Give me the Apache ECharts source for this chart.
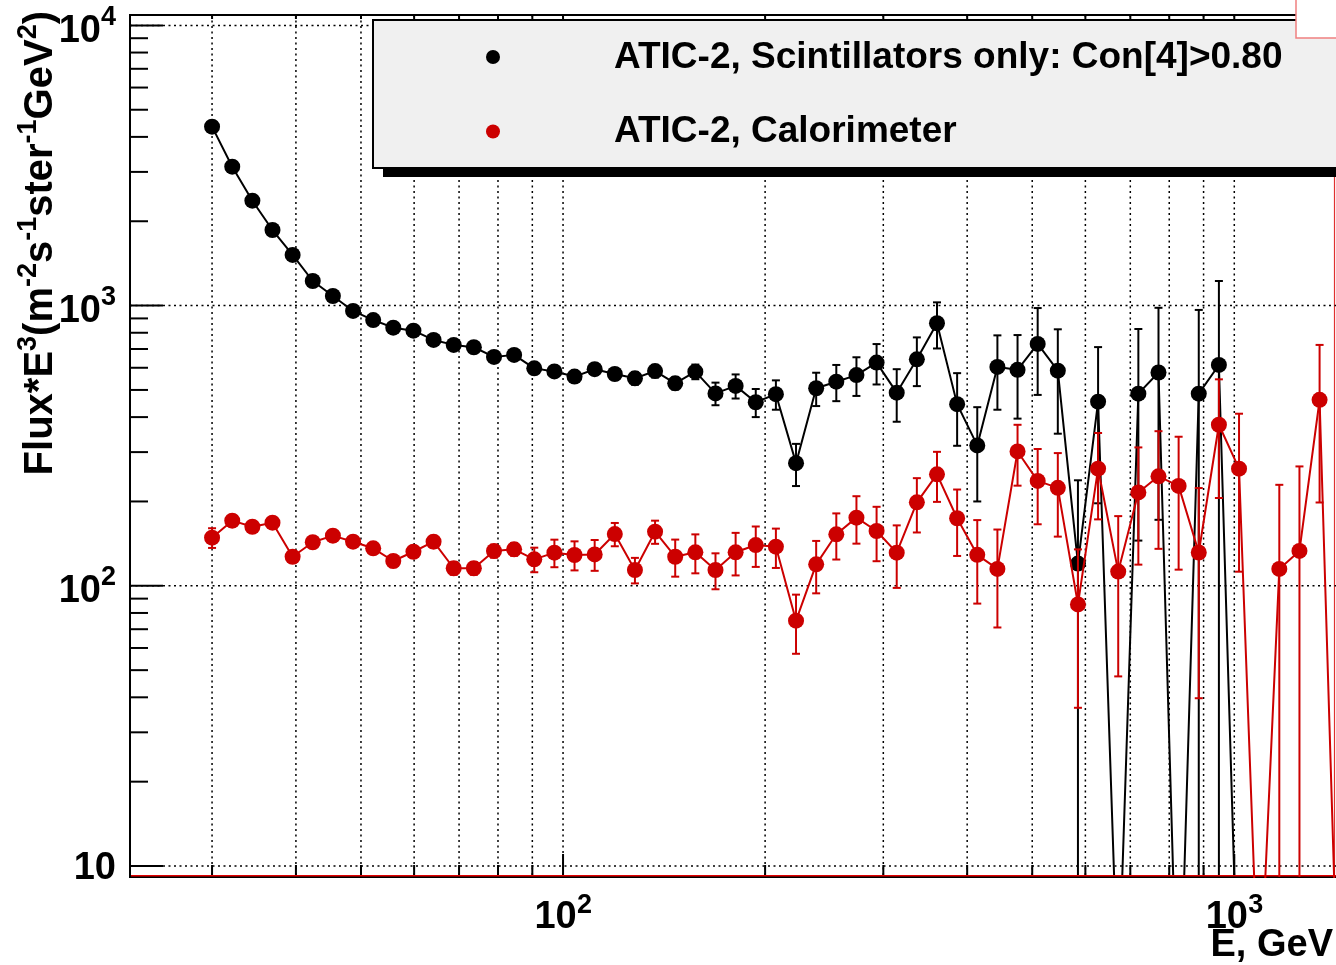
<!DOCTYPE html>
<html><head><meta charset="utf-8">
<script src="https://cdn.jsdelivr.net/npm/echarts@6/dist/echarts.min.js"></script>
<style>html,body{margin:0;padding:0;background:#fff;overflow:hidden}#c{width:1336px;height:965px}</style>
</head><body><div id="c"></div>
<script>
// Energy bin centres (GeV)
const energies = [30.00, 32.15, 34.45, 36.91, 39.55, 42.38, 45.41, 48.66, 52.14, 55.86,
  59.86, 64.14, 68.73, 73.64, 78.91, 84.55, 90.60, 97.08, 104.02, 111.46,
  119.43, 127.97, 137.12, 146.93, 157.44, 168.70, 180.76, 193.69, 207.54, 222.38,
  238.29, 255.33, 273.59, 293.16, 314.12, 336.59, 360.66, 386.45, 414.09, 443.71,
  475.44, 509.44, 545.87, 584.91, 626.74, 671.56, 719.59, 771.05, 826.19, 885.28,
  948.59, 1016.4, 1089.1, 1167.0, 1250.5, 1339.9, 1435.7];
// ATIC-2, Scintillators only: Con[4]>0.80
const scintFlux = [4351, 3131, 2368, 1861, 1516, 1224, 1082, 957, 888, 834,
  814, 754, 724, 710, 656, 667, 597, 582, 558, 593,
  570, 550, 584, 528, 581, 486, 517, 452, 483, 274,
  507, 535, 565, 626, 489, 643, 865, 445, 317, 604,
  590, 730, 586, 120, 454, 3.4, 485, 577, 2.0, 485,
  614, 2.5];
const scintErr = [45, 38, 33, 29, 26, 24, 23, 22, 22, 22,
  22, 22, 22, 23, 23, 24, 24, 25, 25, 27,
  27, 28, 30, 26, 35, 45, 51, 52, 58, 47,
  69, 79, 89, 103, 104, 127, 162, 129, 117, 179,
  195, 250, 237, 118, 257, 0, 340, 405, 0, 480,
  610, 0];
// ATIC-2, Calorimeter
const caloFlux = [148.5, 170.8, 162.5, 168.0, 127.0, 143.0, 151.0, 143.7, 136.1, 122.6,
  132.3, 143.7, 115.5, 115.5, 133.1, 135.0, 124.3, 131.3, 128.8, 129.4,
  153.0, 113.9, 156.0, 127.0, 131.7, 113.9, 131.7, 139.8, 137.9, 75.1,
  119.3, 152.7, 175.1, 156.9, 131.3, 198.6, 250.0, 174.2, 129.0, 114.9,
  301.6, 236.8, 223.7, 85.8, 261.8, 112.4, 215.4, 245.9, 227.3, 131.5,
  375.7, 261.8, 3.0, 114.9, 133.2, 461.1, 2.0];
const caloErr = [12, 8, 7, 7, 6, 6, 7, 6, 6, 6,
  6, 7, 6, 6, 7, 7, 12.5, 14.8, 15.3, 16.3,
  14.6, 11.9, 14.8, 19.2, 20.9, 16.7, 22.8, 23.0, 22.1, 17.9,
  25.3, 28.6, 33.7, 34.5, 33.0, 43.6, 50.7, 46.4, 42.6, 43.9,
  73.9, 71.0, 73.9, 49.1, 89.2, 64.9, 96.4, 110.4, 113.1, 91.8,
  169.9, 149.5, 0, 114.4, 133.5, 262.8, 0];

// axis decoration values
const xGridTicks = [30, 40, 50, 60, 70, 80, 90, 100, 200, 300, 400, 500, 600, 700, 800, 900, 1000];
const xMajorTicks = [100, 1000];
const yMajorTicks = [10, 100, 1000, 10000];
const yMinorTicks = [20, 30, 40, 50, 60, 70, 80, 90, 200, 300, 400, 500, 600, 700, 800, 900, 2000, 3000, 4000, 5000, 6000, 7000, 8000, 9000];
const xLabelVals = [100, 1000];
const xLabelSups = ['2', '3'];
const yLabelVals = [10, 100, 1000, 10000];
const yLabelSups = ['', '2', '3', '4'];

const FONT = '"Liberation Sans", Arial, Helvetica, sans-serif';
const RED = '#cc0000';

const chart = echarts.init(document.getElementById('c'), null, {renderer: 'canvas'});

function errRender(color) {
  return function (params, api) {
    const x = api.value(0), y = api.value(1), e = api.value(2);
    if (!(e > 0)) return null;
    const cs = params.coordSys;
    const top = cs.y, bot = cs.y + cs.height;
    const pHi = api.coord([x, y + e]);
    const px = pHi[0];
    let yHi = pHi[1];
    let yLo = (y - e) > 0 ? api.coord([x, y - e])[1] : bot + 100;
    const capHi = yHi >= top, capLo = yLo <= bot;
    yHi = Math.max(yHi, top); yLo = Math.min(yLo, bot);
    const st = {stroke: color, lineWidth: 2};
    const ch = [{type: 'line', shape: {x1: px, y1: yHi, x2: px, y2: yLo}, style: st}];
    if (capHi) ch.push({type: 'line', shape: {x1: px - 4, y1: yHi, x2: px + 4, y2: yHi}, style: st});
    if (capLo) ch.push({type: 'line', shape: {x1: px - 4, y1: yLo, x2: px + 4, y2: yLo}, style: st});
    return {type: 'group', children: ch};
  };
}

const dotted = {stroke: '#000', lineWidth: 1.5, lineDash: [2, 3.5]};

const option = {
  animation: false,
  backgroundColor: '#fff',
  grid: {left: 130, top: 15, width: 1206, height: 862, show: false},
  xAxis: {type: 'log', logBase: 10, min: 22.64, max: 1417.5,
    axisLine: {show: false}, axisTick: {show: false}, axisLabel: {show: false}, splitLine: {show: false}},
  yAxis: {type: 'log', logBase: 10, min: 9.137, max: 10891,
    axisLine: {show: false}, axisTick: {show: false}, axisLabel: {show: false}, splitLine: {show: false}},
  series: [
    { // frame (left, top, bottom) and the red rule at the right edge
      type: 'custom', silent: true, z: 1,
      data: [[100, 100]],
      renderItem: function (params, api) {
        const cs = params.coordSys, l = cs.x, t = cs.y, r = cs.x + cs.width, b = cs.y + cs.height;
        const st = {stroke: '#000', lineWidth: 2};
        return {type: 'group', children: [
          {type: 'line', shape: {x1: r - 1.5, y1: t, x2: r - 1.5, y2: b}, style: {stroke: '#e03030', lineWidth: 1.2}},
          {type: 'line', shape: {x1: l, y1: t - 1, x2: l, y2: b + 1}, style: st},
          {type: 'line', shape: {x1: l, y1: t, x2: r, y2: t}, style: st},
          {type: 'line', shape: {x1: l, y1: b, x2: r, y2: b}, style: st}
        ]};
      }
    },
    { // vertical grid lines and x ticks
      type: 'custom', silent: true, z: 1,
      data: xGridTicks.map(v => [v, 100]),
      renderItem: function (params, api) {
        const v = api.value(0);
        const x = api.coord([v, 100])[0];
        const cs = params.coordSys, top = cs.y, bot = cs.y + cs.height;
        const major = xMajorTicks.indexOf(v) >= 0;
        return {type: 'group', children: [
          {type: 'line', shape: {x1: x, y1: top, x2: x, y2: bot}, style: dotted},
          {type: 'line', shape: {x1: x, y1: bot, x2: x, y2: bot - (major ? 23 : 12)}, style: {stroke: '#000', lineWidth: 2}},
          {type: 'line', shape: {x1: x, y1: top, x2: x, y2: top + (major ? 8 : 4)}, style: {stroke: '#000', lineWidth: 2}}
        ]};
      }
    },
    { // horizontal grid lines and major y ticks
      type: 'custom', silent: true, z: 1,
      data: yMajorTicks.map(v => [100, v]),
      renderItem: function (params, api) {
        const y = api.coord([100, api.value(1)])[1];
        const cs = params.coordSys;
        return {type: 'group', children: [
          {type: 'line', shape: {x1: cs.x, y1: y, x2: cs.x + cs.width, y2: y}, style: dotted},
          {type: 'line', shape: {x1: cs.x, y1: y, x2: cs.x + 33, y2: y}, style: {stroke: '#000', lineWidth: 2}}
        ]};
      }
    },
    { // minor y ticks
      type: 'custom', silent: true, z: 1,
      data: yMinorTicks.map(v => [100, v]),
      renderItem: function (params, api) {
        const y = api.coord([100, api.value(1)])[1];
        const cs = params.coordSys;
        if (y < cs.y || y > cs.y + cs.height) return null;
        return {type: 'line', shape: {x1: cs.x, y1: y, x2: cs.x + 18, y2: y}, style: {stroke: '#000', lineWidth: 2}};
      }
    },
    { // y tick labels
      type: 'custom', silent: true, z: 1,
      data: yLabelVals.map(v => [100, v]),
      renderItem: function (params, api) {
        const y = api.coord([100, api.value(1)])[1];
        const sup = yLabelSups[params.dataIndex];
        if (!sup) {
          return {type: 'text', x: 116, y: y + 2.5, style: {text: '10', font: 'bold 38px ' + FONT, fill: '#000', align: 'right', verticalAlign: 'middle'}};
        }
        return {type: 'group', children: [
          {type: 'text', x: 101, y: y + 6, style: {text: '10', font: 'bold 38px ' + FONT, fill: '#000', align: 'right', verticalAlign: 'middle'}},
          {type: 'text', x: 116, y: y - 8, style: {text: sup, font: 'bold 27px ' + FONT, fill: '#000', align: 'right', verticalAlign: 'middle'}}
        ]};
      }
    },
    { // x tick labels
      type: 'custom', silent: true, z: 1,
      data: xLabelVals.map(v => [v, 100]),
      renderItem: function (params, api) {
        const x = api.coord([api.value(0), 100])[0];
        const cs = params.coordSys, bot = cs.y + cs.height;
        const sup = xLabelSups[params.dataIndex];
        const left = x - 28.6;
        return {type: 'group', children: [
          {type: 'text', x: left, y: bot + 40.5, style: {text: '10', font: 'bold 38px ' + FONT, fill: '#000', align: 'left', verticalAlign: 'middle'}},
          {type: 'text', x: left + 42.5, y: bot + 29, style: {text: sup, font: 'bold 27px ' + FONT, fill: '#000', align: 'left', verticalAlign: 'middle'}}
        ]};
      }
    },
    { // red line along the bottom of the frame
      type: 'custom', silent: true, z: 6,
      data: [[100, 10]],
      renderItem: function (params, api) {
        const cs = params.coordSys, bot = cs.y + cs.height - 1.3;
        return {type: 'line', shape: {x1: cs.x + 1, y1: bot, x2: cs.x + cs.width, y2: bot}, style: {stroke: '#e00000', lineWidth: 1.6}};
      }
    },
    {
      name: 'ATIC-2, Scintillators only: Con[4]>0.80',
      type: 'line', z: 3, clip: true,
      data: scintFlux.map((v, i) => [energies[i], v]),
      symbol: 'circle', symbolSize: 16, showAllSymbol: true,
      lineStyle: {color: '#000', width: 2},
      itemStyle: {color: '#000'}
    },
    {
      type: 'custom', z: 2, clip: true, silent: true,
      data: scintFlux.map((v, i) => [energies[i], v, scintErr[i]]),
      renderItem: errRender('#000')
    },
    {
      name: 'ATIC-2, Calorimeter',
      type: 'line', z: 5, clip: true,
      data: caloFlux.map((v, i) => [energies[i], v]),
      symbol: 'circle', symbolSize: 16, showAllSymbol: true,
      lineStyle: {color: RED, width: 2},
      itemStyle: {color: RED}
    },
    {
      type: 'custom', z: 4, clip: true, silent: true,
      data: caloFlux.map((v, i) => [energies[i], v, caloErr[i]]),
      renderItem: errRender(RED)
    }
  ],
  graphic: [
    {type: 'rect', z: 100, shape: {x: 383, y: 168, width: 1000, height: 9}, style: {fill: '#000'}},
    {type: 'rect', z: 101, shape: {x: 373, y: 20, width: 1000, height: 148}, style: {fill: '#f0f0f0', stroke: '#000', lineWidth: 2}},
    {type: 'circle', z: 102, shape: {cx: 493, cy: 57, r: 7}, style: {fill: '#000'}},
    {type: 'circle', z: 102, shape: {cx: 493, cy: 131.5, r: 7}, style: {fill: RED}},
    {type: 'text', z: 102, x: 614, y: 57.5, style: {text: 'ATIC-2, Scintillators only: Con[4]>0.80', font: 'bold 37px ' + FONT, fill: '#000', align: 'left', verticalAlign: 'middle'}},
    {type: 'text', z: 102, x: 614, y: 131.5, style: {text: 'ATIC-2, Calorimeter', font: 'bold 37px ' + FONT, fill: '#000', align: 'left', verticalAlign: 'middle'}},
    {type: 'text', z: 102, x: 1333, y: 946, style: {text: 'E, GeV', font: 'bold 38px ' + FONT, fill: '#000', align: 'right', verticalAlign: 'middle'}},
    {type: 'text', z: 102, x: 38, y: 11, rotation: Math.PI / 2,
      style: {text: '{m|Flux*E}{s|3}{m|(m}{s|-2}{m|s}{s|-1}{m|ster}{s|-1}{m|GeV}{s|2}{m|)}',
        align: 'right', verticalAlign: 'middle', fill: '#000',
        rich: {m: {font: 'bold 40px ' + FONT, fill: '#000', verticalAlign: 'bottom', lineHeight: 45},
               s: {font: 'bold 27px ' + FONT, fill: '#000', verticalAlign: 'top'}}}},
    {type: 'rect', z: 110, shape: {x: 1296, y: -2, width: 60, height: 40}, style: {fill: '#fff', stroke: '#f08080', lineWidth: 1.5}}
  ]
};
chart.setOption(option);
</script>
</body></html>
